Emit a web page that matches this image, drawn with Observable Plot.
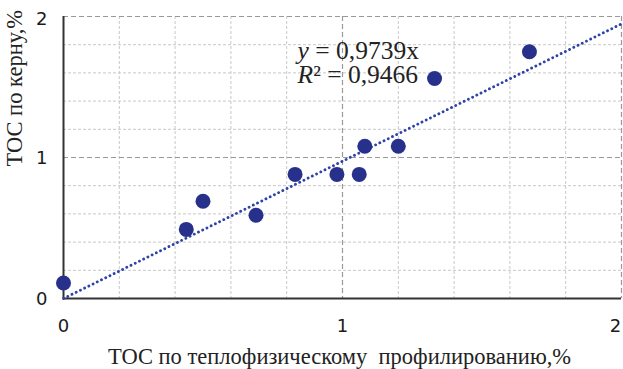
<!DOCTYPE html>
<html>
<head>
<meta charset="utf-8">
<script src="https://cdn.jsdelivr.net/npm/d3@7"></script>
<script src="https://cdn.jsdelivr.net/npm/@observablehq/plot@0.6"></script>
<style>
  html, body { margin: 0; padding: 0; background: #fff; }
</style>
</head>
<body>
<div id="chart"></div>
<script>
// Data
const xVals = [0, 0.44, 0.50, 0.69, 0.83, 0.98, 1.06, 1.08, 1.20, 1.33, 1.67];
const yVals = [0.11, 0.49, 0.69, 0.59, 0.88, 0.88, 0.88, 1.08, 1.08, 1.56, 1.75];
const slope = 0.9739;
const r2 = "0,9466";
const trendX = [0, 2];
const majorTicks = [0, 1, 2];
const minorTicks = [0.2, 0.4, 0.6, 0.8, 1.2, 1.4, 1.6, 1.8];
const xTitle = "ТОС по теплофизическому  профилированию,%";
const yTitle = "ТОС по керну,%";
const eqLine1 = "y = 0,9739x";
const eqLine2 = "R² = " + r2;

const points = xVals.map((x, i) => ({x, y: yVals[i]}));
const trend = trendX.map(x => ({x, y: slope * x}));

const serif = "'Liberation Serif', 'Times New Roman', serif";
const sans = "'DejaVu Sans', 'Noto Sans', sans-serif";

const lastTick = majorTicks[majorTicks.length - 1];
const innerTicks = majorTicks.slice(0, -1);

const chart = Plot.plot({
  width: 623,
  height: 369,
  marginLeft: 63,
  marginRight: 2,
  marginTop: 16,
  marginBottom: 71,
  style: {background: "#fff", overflow: "visible"},
  x: {domain: [0, 2], axis: null},
  y: {domain: [0, 2], axis: null},
  marks: [
    Plot.ruleX(minorTicks, {stroke: "#c8c8c8", strokeWidth: 1, strokeDasharray: "3,2"}),
    Plot.ruleY(minorTicks, {stroke: "#c8c8c8", strokeWidth: 1, strokeDasharray: "3,2"}),
    Plot.ruleX(majorTicks.filter(d => d > 0), {stroke: "#9a9a9a", strokeWidth: 1.2, strokeDasharray: "5,3"}),
    Plot.ruleY(majorTicks.filter(d => d > 0), {stroke: "#9a9a9a", strokeWidth: 1.2, strokeDasharray: "5,3"}),
    Plot.ruleX([0], {stroke: "#333", strokeWidth: 2}),
    Plot.ruleY([0], {stroke: "#333", strokeWidth: 2}),
    Plot.line(trend, {x: "x", y: "y", stroke: "#2d43a8", strokeWidth: 2.8, strokeDasharray: "0.1,4.6", strokeLinecap: "round"}),
    Plot.dot(points, {x: "x", y: "y", r: 7.5, fill: "#27318c", stroke: "none"}),
    // x tick labels
    Plot.text(innerTicks, {x: d => d, frameAnchor: "bottom", dy: 28, text: d => String(d), fontFamily: sans, fontSize: 18, fill: "#1a1a1a", lineAnchor: "middle"}),
    Plot.text([lastTick], {x: d => d, frameAnchor: "bottom", dy: 28, dx: -6, text: d => String(d), fontFamily: sans, fontSize: 18, fill: "#1a1a1a", lineAnchor: "middle"}),
    // y tick labels
    Plot.text(innerTicks, {y: d => d, frameAnchor: "left", dx: -16, dy: 1, text: d => String(d), fontFamily: sans, fontSize: 18, fill: "#1a1a1a", textAnchor: "end", lineAnchor: "middle"}),
    Plot.text([lastTick], {y: d => d, frameAnchor: "left", dx: -16, dy: 3, text: d => String(d), fontFamily: sans, fontSize: 18, fill: "#1a1a1a", textAnchor: "end", lineAnchor: "middle"}),
    // regression equation
    Plot.text([eqLine1], {x: 0.839, y: 1.70, text: d => d, textAnchor: "start", lineAnchor: "bottom", fontFamily: serif, fontSize: 25.5, fill: "#222"}),
    Plot.text([eqLine2], {x: 0.839, y: 1.525, text: d => d, textAnchor: "start", lineAnchor: "bottom", fontFamily: serif, fontSize: 25.5, fill: "#222"}),
    // axis titles
    Plot.text([xTitle], {frameAnchor: "bottom", dy: 65, dx: -3, lineAnchor: "bottom", text: d => d, fontFamily: serif, fontSize: 22.5, fill: "#222"}),
    Plot.text([yTitle], {frameAnchor: "left", dx: -49, dy: 9, rotate: -90, lineAnchor: "middle", text: d => d, fontFamily: serif, fontSize: 22.5, fill: "#222"})
  ]
});

// italicise the variable letters in the equation
d3.select(chart).selectAll("text").each(function() {
  const t = this.textContent;
  if (t === eqLine1 || t === eqLine2) {
    const first = t[0];
    const rest = t.slice(1);
    const el = d3.select(this);
    el.text(null);
    el.append("tspan").attr("font-style", "italic").text(first);
    el.append("tspan").text(rest);
  }
});

document.getElementById("chart").appendChild(chart);
</script>
</body>
</html>
